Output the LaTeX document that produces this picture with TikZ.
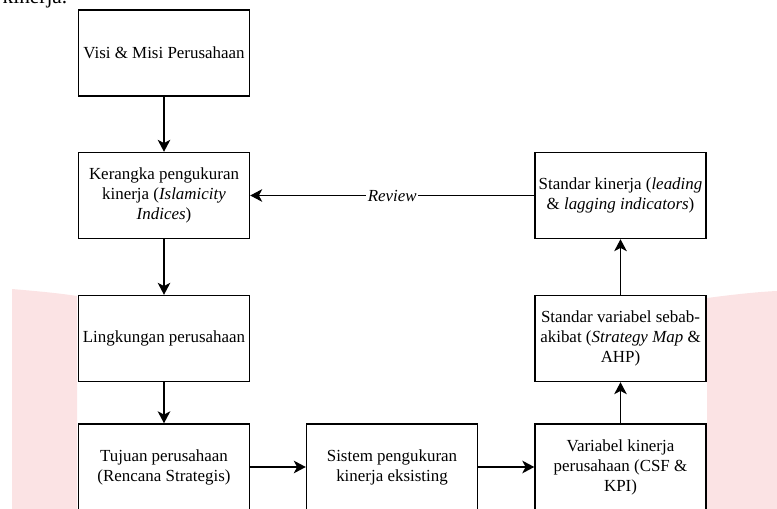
\documentclass[tikz,border=0pt]{standalone}
\usepackage{fontspec}
\setmainfont{Liberation Serif}
\usetikzlibrary{arrows.meta}
\definecolor{pinkbg}{RGB}{251,227,228}
\begin{document}
\begin{tikzpicture}
            [x=0.75pt, y=-0.75pt,
            box/.style={draw, line width=1.1pt, minimum width=128.25pt, minimum height=64.5pt,
                inner sep=0pt, align=center, font=\fontsize{12.7}{15}\selectfont},
            edge/.style={line width=1.1pt, -{Stealth[length=9pt, width=9.5pt, inset=2.5pt]}},
            lbl/.style={fill=white, inner sep=1pt, font=\fontsize{12.7}{15}\selectfont\itshape}]

            \useasboundingbox (0,0) rectangle (777,509);

            % background band
            \fill[pinkbg] (12,509) -- (12,289) .. controls (35,291) and (58,293) .. (77,296) -- (77,509) -- cycle;
            \fill[pinkbg] (707,509) -- (707,298) .. controls (730,295) and (755,292) .. (777,291) -- (777,509) -- cycle;

            \node[anchor=base east, font=\fontsize{16}{19}\selectfont] (txt) at (72,4) {kinerja.};

            \node[box] (visi) at (164,53) {Visi \& Misi Perusahaan};
            \node[box] (kerangka) at (164,195.5) {Kerangka pengukuran\\kinerja (\textit{Islamicity}\\\textit{Indices})};
            \node[box] (lingkungan) at (164,338.5) {Lingkungan perusahaan};
            \node[box] (tujuan) at (164,467) {Tujuan perusahaan\\(Rencana Strategis)};
            \node[box] (sistem) at (392,467) {Sistem pengukuran\\kinerja eksisting};
            \node[box] (variabel) at (620.5,467) {Variabel kinerja\\perusahaan (CSF \&\\KPI)};
            \node[box] (stdvar) at (620.5,338.5) {Standar variabel sebab-\\akibat (\textit{Strategy Map} \&\\AHP)};
            \node[box] (stdkin) at (620.5,195.5) {Standar kinerja (\textit{leading}\\\& \textit{lagging indicators})};

            \draw[edge] (visi) -- (kerangka);
            \draw[edge] (kerangka) -- (lingkungan);
            \draw[edge] (lingkungan) -- (tujuan);
            \draw[edge] (tujuan) -- (sistem);
            \draw[edge] (sistem) -- (variabel);
            \draw[edge] (variabel) -- (stdvar);
            \draw[edge] (stdvar) -- (stdkin);
            \draw[edge] (stdkin) -- (kerangka) node[midway, lbl] {Review};

        \end{tikzpicture}
\end{document}
